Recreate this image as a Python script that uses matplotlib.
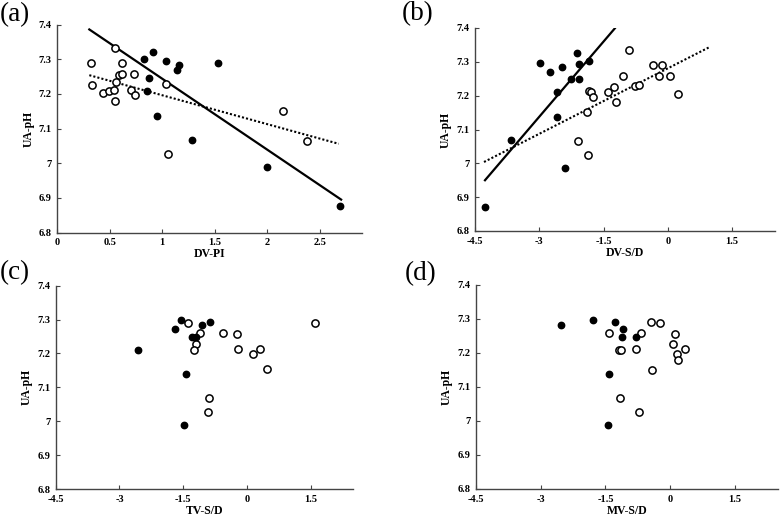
import matplotlib
matplotlib.use("Agg")
import matplotlib.pyplot as plt
import numpy as np

plt.rcParams['font.family'] = ['Liberation Serif', 'DejaVu Serif']

# ---------------- data ----------------
# (a) DV-PI
a_filled_x = [0.827, 0.910, 1.037, 1.139, 1.158, 1.530, 0.878, 0.859, 0.948, 1.288, 1.998, 2.694]
a_filled_y = [7.300, 7.322, 7.296, 7.269, 7.282, 7.290, 7.246, 7.209, 7.137, 7.068, 6.989, 6.876]
a_open_x = [0.319, 0.328, 0.548, 0.617, 0.592, 0.620, 0.732, 0.560, 0.436, 0.496, 0.538, 0.551,
            0.706, 0.741, 1.034, 1.059, 2.151, 2.380]
a_open_y = [7.288, 7.226, 7.332, 7.288, 7.255, 7.258, 7.257, 7.233, 7.202, 7.209, 7.210, 7.180,
            7.212, 7.196, 7.228, 7.026, 7.151, 7.065]
a_solid_x = [0.305, 2.704]
a_solid_y = [7.386, 6.895]
a_dot_x = [0.305, 2.681]
a_dot_y = [7.254, 7.056]

# (b) DV-S/D
b_filled_x = [-2.992, -2.744, -2.472, -2.130, -2.069, -1.850, -2.255, -2.069, -2.596, -2.589,
              -3.661, -2.402, -4.267]
b_filled_y = [7.298, 7.271, 7.284, 7.325, 7.293, 7.302, 7.248, 7.248, 7.210, 7.137,
              7.068, 6.987, 6.872]
b_open_x = [-0.903, -0.335, -0.141, -1.043, -0.218, 0.052, -1.260, -0.777, -0.670, -1.840,
            -1.800, -1.743, -1.393, -1.213, 0.247, -1.889, -2.106, -1.859]
b_open_y = [7.335, 7.290, 7.290, 7.259, 7.259, 7.257, 7.227, 7.229, 7.232, 7.213,
            7.210, 7.197, 7.210, 7.180, 7.204, 7.151, 7.066, 7.025]
b_solid_x = [-4.267, -1.237]
b_solid_y = [6.950, 7.399]
b_dot_x = [-4.290, 0.994]
b_dot_y = [7.004, 7.345]

# (c) TV-S/D
c_filled_x = [-2.573, -1.683, -1.549, -1.057, -0.863, -1.301, -1.198, -1.425, -1.472]
c_filled_y = [7.210, 7.272, 7.299, 7.284, 7.293, 7.250, 7.250, 7.139, 6.989]
c_open_x = [-1.394, -1.097, -1.207, -1.245, -0.566, -0.238, -0.207, 0.151, 0.301, 0.479,
            1.596, -0.893, -0.917]
c_open_y = [7.291, 7.260, 7.229, 7.210, 7.260, 7.258, 7.212, 7.199, 7.213, 7.153,
            7.291, 7.068, 7.027]

# (d) MV-S/D
d_filled_x = [-2.536, -1.782, -1.280, -1.094, -1.108, -0.782, -1.426, -1.440]
d_filled_y = [7.283, 7.298, 7.291, 7.271, 7.248, 7.248, 7.138, 6.988]
d_open_x = [-0.447, -0.230, -1.407, -0.672, 0.112, -1.190, -1.150, -0.795, 0.058, 0.351,
            0.158, 0.181, -0.423, -1.167, -0.733]
d_open_y = [7.290, 7.289, 7.259, 7.258, 7.256, 7.209, 7.209, 7.211, 7.227, 7.212,
            7.197, 7.179, 7.151, 7.067, 7.026]

y_ticks = [6.8, 6.9, 7.0, 7.1, 7.2, 7.3, 7.4]
y_ticklabels = ['6.8', '6.9', '7', '7.1', '7.2', '7.3', '7.4']
a_xticks = [0, 0.5, 1, 1.5, 2, 2.5]
a_xticklabels = ['0', '0.5', '1', '1.5', '2', '2.5']
sd_xticks = [-4.5, -3, -1.5, 0, 1.5]
sd_xticklabels = ['-4.5', '-3', '-1.5', '0', '1.5']

# ---------------- figure ----------------
W, H = 780, 519
fig = plt.figure(figsize=(W / 100, H / 100), dpi=100)


def make_ax(left, top, right, bottom):
    return fig.add_axes([left / W, 1 - bottom / H, (right - left) / W, (bottom - top) / H])


def style(ax, xlim, xticks, xticklabels, xlabel):
    ax.set_xlim(*xlim)
    ax.set_ylim(6.8, 7.4)
    ax.set_xticks(xticks)
    ax.set_xticklabels(xticklabels, fontweight='bold', fontsize=7.5)
    ax.set_yticks(y_ticks)
    ax.set_yticklabels(y_ticklabels, fontweight='bold', fontsize=7.5)
    for s in ['top', 'right']:
        ax.spines[s].set_visible(False)
    for s in ['left', 'bottom']:
        ax.spines[s].set_color('#444444')
        ax.spines[s].set_linewidth(1.0)
    ax.tick_params(direction='in', length=3, width=0.8, color='#444444', pad=4)
    ax.tick_params(axis='x', pad=4)
    ax.set_xlabel(xlabel, fontweight='bold', fontsize=8.5, labelpad=1)
    ax.set_ylabel('UA-pH', fontweight='bold', fontsize=8.5, labelpad=3)


def scatter(ax, fx, fy, ox, oy):
    ax.plot(ox, oy, 'o', ms=5.2, mfc='white', mec='black', mew=1.1, ls='none', zorder=3)
    ax.plot(fx, fy, 'o', ms=4.6, mfc='black', mec='black', ls='none', zorder=4)


# (a)
ax_a = make_ax(57.3, 24.6, 361.7, 232.5)
style(ax_a, (0, 2.9), a_xticks, a_xticklabels, 'DV-PI')
scatter(ax_a, a_filled_x, a_filled_y, a_open_x, a_open_y)
ax_a.plot(a_solid_x, a_solid_y, color='black', lw=1.6, zorder=2)
ax_a.plot(a_dot_x, a_dot_y, color='black', lw=1.5, ls=(0, (1, 1)), zorder=2)

# (b)
ax_b = make_ax(475, 28, 775, 231)
style(ax_b, (-4.5, 2.5), sd_xticks, sd_xticklabels, 'DV-S/D')
scatter(ax_b, b_filled_x, b_filled_y, b_open_x, b_open_y)
ax_b.plot(b_solid_x, b_solid_y, color='black', lw=1.6, zorder=2)
ax_b.plot(b_dot_x, b_dot_y, color='black', lw=1.5, ls=(0, (1, 1)), zorder=2)

# (c)
ax_c = make_ax(55.7, 285.7, 353.3, 489)
style(ax_c, (-4.5, 2.5), sd_xticks, sd_xticklabels, 'TV-S/D')
scatter(ax_c, c_filled_x, c_filled_y, c_open_x, c_open_y)

# (d)
ax_d = make_ax(476, 285, 778, 489)
style(ax_d, (-4.5, 2.5), sd_xticks, sd_xticklabels, 'MV-S/D')
scatter(ax_d, d_filled_x, d_filled_y, d_open_x, d_open_y)

# panel letters
for lab, x, y in [('(a)', 0, 15), ('(b)', 402, 14), ('(c)', 0, 273), ('(d)', 405, 274)]:
    fig.text(x / W, 1 - y / H, lab, fontsize=19.5, va='center', ha='left')

fig.savefig('out.png', dpi=100)
